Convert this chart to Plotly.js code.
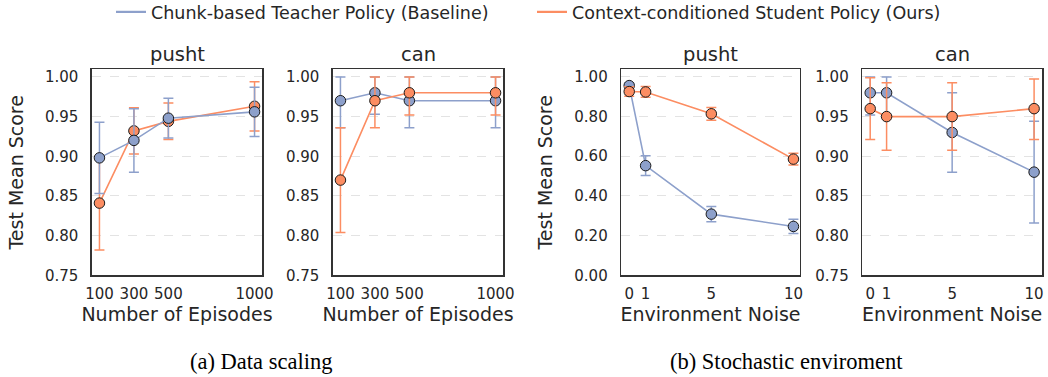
<!DOCTYPE html>
<html>
<head>
<meta charset="utf-8">
<script src="https://cdn.plot.ly/plotly-3.0.1.min.js"></script>
<style>
  html, body { margin: 0; padding: 0; background: #ffffff; }
  #chart { width: 1048px; height: 377px; }
</style>
</head>
<body>
<div id="chart"></div>
<script>
// ---------------- data ----------------
const seriesNames = ["Chunk-based Teacher Policy (Baseline)", "Context-conditioned Student Policy (Ours)"];
const panelTitles = ["pusht", "can", "pusht", "can"];
const captions = ["(a) Data scaling", "(b) Stochastic enviroment"];

const episodes = [100, 300, 500, 1000];
const noise = [0, 1, 5, 10];

// (a) pusht, data scaling
const pushtEpTeacher = [0.898, 0.920, 0.948, 0.956];
const pushtEpTeacherErr = [0.045, 0.040, 0.025, 0.031];
const pushtEpStudent = [0.841, 0.932, 0.944, 0.963];
const pushtEpStudentErr = [0.059, 0.029, 0.023, 0.031];

// (a) can, data scaling
const canEpTeacher = [0.970, 0.980, 0.970, 0.970];
const canEpTeacherErrUp = [0.030, 0.020, 0.030, 0.030];
const canEpTeacherErrDown = [0.034, 0.027, 0.034, 0.034];
const canEpStudent = [0.870, 0.970, 0.980, 0.980];
const canEpStudentErrUp = [0.066, 0.030, 0.020, 0.020];
const canEpStudentErrDown = [0.066, 0.034, 0.028, 0.028];

// (b) pusht, environment noise
const pushtNzTeacher = [0.955, 0.552, 0.308, 0.246];
const pushtNzTeacherErr = [0.012, 0.050, 0.038, 0.036];
const pushtNzStudent = [0.925, 0.923, 0.813, 0.585];
const pushtNzStudentErr = [0.024, 0.027, 0.032, 0.030];

// (b) can, environment noise
const canNzTeacher = [0.980, 0.980, 0.930, 0.880];
const canNzTeacherErrUp = [0.020, 0.020, 0.050, 0.064];
const canNzTeacherErrDown = [0.028, 0.028, 0.050, 0.064];
const canNzStudent = [0.960, 0.950, 0.950, 0.960];
const canNzStudentErrUp = [0.039, 0.0425, 0.0425, 0.0375];
const canNzStudentErrDown = [0.039, 0.0425, 0.0425, 0.039];

const scoreTicks = [0.75, 0.80, 0.85, 0.90, 0.95, 1.00];
const noiseScoreTicks = [0.0, 0.2, 0.4, 0.6, 0.8, 1.0];

// ---------------- style ----------------
const BLUE = "#8da0cb";
const ORANGE = "#fc8d62";
const TXT = "#262626";
const FONT = "DejaVu Sans, sans-serif";

function trace(x, y, up, down, color, ax, name) {
  return {
    type: "scatter", mode: "lines+markers",
    x: x, y: y, name: name, showlegend: false,
    xaxis: "x" + ax, yaxis: "y" + ax,
    line: { color: color, width: 1.6 },
    marker: { color: color, size: 10.5, line: { color: "#1a1a1a", width: 1 } },
    error_y: { type: "data", symmetric: false, array: up, arrayminus: down,
               color: color, thickness: 1.5, width: 5 },
    cliponaxis: false,
    hoverinfo: "x+y"
  };
}

const data = [
  trace(episodes, pushtEpStudent, pushtEpStudentErr, pushtEpStudentErr, ORANGE, "", seriesNames[1]),
  trace(episodes, pushtEpTeacher, pushtEpTeacherErr, pushtEpTeacherErr, BLUE, "", seriesNames[0]),
  trace(episodes, canEpTeacher, canEpTeacherErrUp, canEpTeacherErrDown, BLUE, "2", seriesNames[0]),
  trace(episodes, canEpStudent, canEpStudentErrUp, canEpStudentErrDown, ORANGE, "2", seriesNames[1]),
  trace(noise, pushtNzTeacher, pushtNzTeacherErr, pushtNzTeacherErr, BLUE, "3", seriesNames[0]),
  trace(noise, pushtNzStudent, pushtNzStudentErr, pushtNzStudentErr, ORANGE, "3", seriesNames[1]),
  trace(noise, canNzTeacher, canNzTeacherErrUp, canNzTeacherErrDown, BLUE, "4", seriesNames[0]),
  trace(noise, canNzStudent, canNzStudentErrUp, canNzStudentErrDown, ORANGE, "4", seriesNames[1]),
  // legend entries (line samples only)
  { type: "scatter", mode: "lines", x: [null], y: [null], name: seriesNames[0], legend: "legend",
    line: { color: BLUE, width: 2.2 }, showlegend: true, xaxis: "x", yaxis: "y" },
  { type: "scatter", mode: "lines", x: [null], y: [null], name: seriesNames[1], legend: "legend2",
    line: { color: ORANGE, width: 2.2 }, showlegend: true, xaxis: "x", yaxis: "y" }
];

const W = 1048, H = 377;
const px = v => v / W;
const py = v => 1 - v / H;
const yTop = py(69.3), yBot = py(275.3);
const doms = [[91.7, 262.3], [332.7, 503.3], [621, 800], [862, 1042.3]];

function xAxis(i, range, ticks, title) {
  return {
    domain: [px(doms[i][0]), px(doms[i][1])],
    range: range, tickvals: ticks, ticktext: ticks.map(String),
    showgrid: false, zeroline: false,
    showline: true, mirror: true, linecolor: "#333333", linewidth: 1.3,
    ticks: "", ticklabelstandoff: 4,
    tickfont: { family: FONT, size: 15, color: TXT },
    title: { text: title, font: { family: FONT, size: 19, color: TXT }, standoff: 0 },
    anchor: i === 0 ? "y" : "y" + (i + 1),
    fixedrange: true
  };
}
function yAxis(i, range, ticks, fmt, title) {
  return {
    domain: [yBot, yTop],
    range: range, tickvals: ticks, tickformat: fmt,
    showgrid: true, gridcolor: "#dcdcdc", gridwidth: 0.8, griddash: "dash",
    zeroline: false,
    showline: true, mirror: true, linecolor: "#333333", linewidth: 1.3,
    ticks: "", ticklabelstandoff: 9,
    tickfont: { family: FONT, size: 15, color: TXT },
    title: title ? { text: title, font: { family: FONT, size: 19, color: TXT }, standoff: 16 } : { text: "" },
    anchor: i === 0 ? "x" : "x" + (i + 1),
    fixedrange: true
  };
}

const annotations = [];
panelTitles.forEach((t, i) => {
  annotations.push({
    text: t, xref: "paper", yref: "paper",
    x: px((doms[i][0] + doms[i][1]) / 2), y: yTop,
    xanchor: "center", yanchor: "bottom", yshift: 1, showarrow: false,
    font: { family: FONT, size: 19.5, color: TXT }
  });
});
annotations.push({
  text: captions[0], xref: "paper", yref: "paper", x: px(261), y: py(361),
  xanchor: "center", yanchor: "middle", showarrow: false,
  font: { family: "Liberation Serif, Times New Roman, serif", size: 22.5, color: "#000000" }
});
annotations.push({
  text: captions[1], xref: "paper", yref: "paper", x: px(786), y: py(361),
  xanchor: "center", yanchor: "middle", showarrow: false,
  font: { family: "Liberation Serif, Times New Roman, serif", size: 22.5, color: "#000000" }
});

const legendBase = {
  orientation: "h", yanchor: "middle", y: py(12), xanchor: "left",
  font: { family: FONT, size: 17.5, color: TXT },
  bgcolor: "rgba(0,0,0,0)", borderwidth: 0
};

const layout = {
  width: W, height: H,
  margin: { l: 0, r: 0, t: 0, b: 0, autoexpand: false },
  paper_bgcolor: "#ffffff", plot_bgcolor: "#ffffff",
  font: { family: FONT, color: TXT },
  showlegend: true,
  legend: Object.assign({}, legendBase, { x: px(111) }),
  legend2: Object.assign({}, legendBase, { x: px(532) }),
  xaxis: xAxis(0, [55, 1045], episodes, "Number of Episodes"),
  xaxis2: xAxis(1, [55, 1045], episodes, "Number of Episodes"),
  xaxis3: xAxis(2, [-0.5, 10.4], noise, "Environment Noise"),
  xaxis4: xAxis(3, [-0.5, 10.5], noise, "Environment Noise"),
  yaxis: yAxis(0, [0.75, 1.0096], scoreTicks, ".2f", "Test Mean Score"),
  yaxis2: yAxis(1, [0.75, 1.0096], scoreTicks, ".2f", ""),
  yaxis3: yAxis(2, [0, 1.037], noiseScoreTicks, ".2f", "Test Mean Score"),
  yaxis4: yAxis(3, [0.75, 1.0096], scoreTicks, ".2f", ""),
  annotations: annotations
};

Plotly.newPlot("chart", data, layout, { displayModeBar: false, staticPlot: true });
</script>
</body>
</html>
